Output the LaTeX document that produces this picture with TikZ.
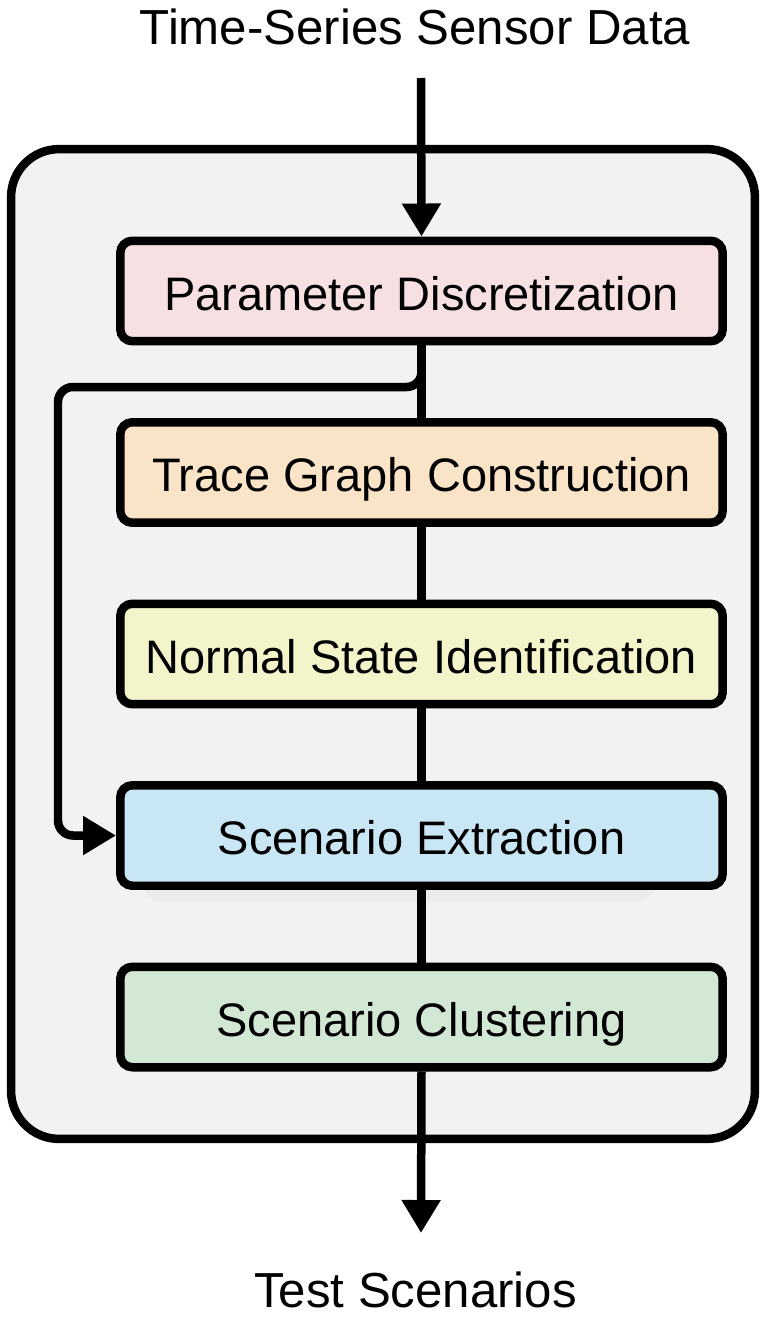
\documentclass[tikz,border=0pt]{standalone}
\usepackage{fontspec}
\setmainfont{Liberation Sans}
\usetikzlibrary{arrows.meta}

\definecolor{framegray}{HTML}{F2F2F2}
\definecolor{shadowgray}{HTML}{EBEBEB}
\definecolor{paramfill}{HTML}{F6E0E1}
\definecolor{tracefill}{HTML}{FAE4C8}
\definecolor{normalfill}{HTML}{F3F4CA}
\definecolor{extractfill}{HTML}{C9E6F4}
\definecolor{clusterfill}{HTML}{D2E7D4}

\tikzset{
    stage/.style={draw, line width=0.17cm, rounded corners=0.24cm,
        minimum width=12.05cm, minimum height=2.01cm, inner sep=0pt,
        text height=22pt, text depth=0pt,
        font=\fontsize{26.75}{32}\selectfont},
    flow/.style={line width=0.17cm},
    flowtip/.style={-{Triangle[length=0.66cm,width=0.74cm]}},
    iolabel/.style={inner sep=0pt, anchor=base, font=\fontsize{28}{34}\selectfont}
}

\begin{document}
\begin{tikzpicture}[x=0.02cm, y=-0.02cm]
        \useasboundingbox (0, 0) rectangle (768, 1318);

        % Draw the container
        \node[draw, line width=0.17cm, rounded corners=0.96cm, fill=framegray,
            minimum width=14.88cm, minimum height=19.8cm] (frame) at (383, 644) {};
        \fill[shadowgray, rounded corners=0.4cm] (143, 850) rectangle (655, 902);

        % Draw the input and output labels
        \node[iolabel] (input) at (415, 45) {Time-Series Sensor Data};
        \node[iolabel] (output) at (415.5, 1307) {Test Scenarios};
        \coordinate (inTop) at (421, 78);
        \coordinate (outTip) at (421, 1233);

        % Draw the stages of the pipeline
        \node[stage, fill=paramfill] (param) at (421.5, 291) {Parameter Discretization};
        \node[stage, fill=tracefill] (trace) at (421.5, 472.5) {Trace Graph Construction};
        \node[stage, fill=normalfill] (normal) at (421.5, 654) {Normal State Identification};
        \node[stage, fill=extractfill] (extract) at (421.5, 835.5) {Scenario Extraction};
        \node[stage, fill=clusterfill] (cluster) at (421.5, 1017) {Scenario Clustering};

        % Draw the lines between the stages
        \foreach \a/\b in {param/trace, trace/normal, normal/extract, extract/cluster}
            \draw[flow] (\a) -- (\b);

        % Draw the arrows in and out
        \draw[flow, flowtip] (inTop) -- (param.north);
        \draw[flow, flowtip] (cluster.south) -- (outTip);

        % Add the loop from the first stage to the extraction
        \coordinate (loopA) at (58, 387);
        \draw[flow, flowtip, rounded corners=0.3cm] (param.south) |- (loopA) |- (extract.west);
    \end{tikzpicture}
\end{document}
